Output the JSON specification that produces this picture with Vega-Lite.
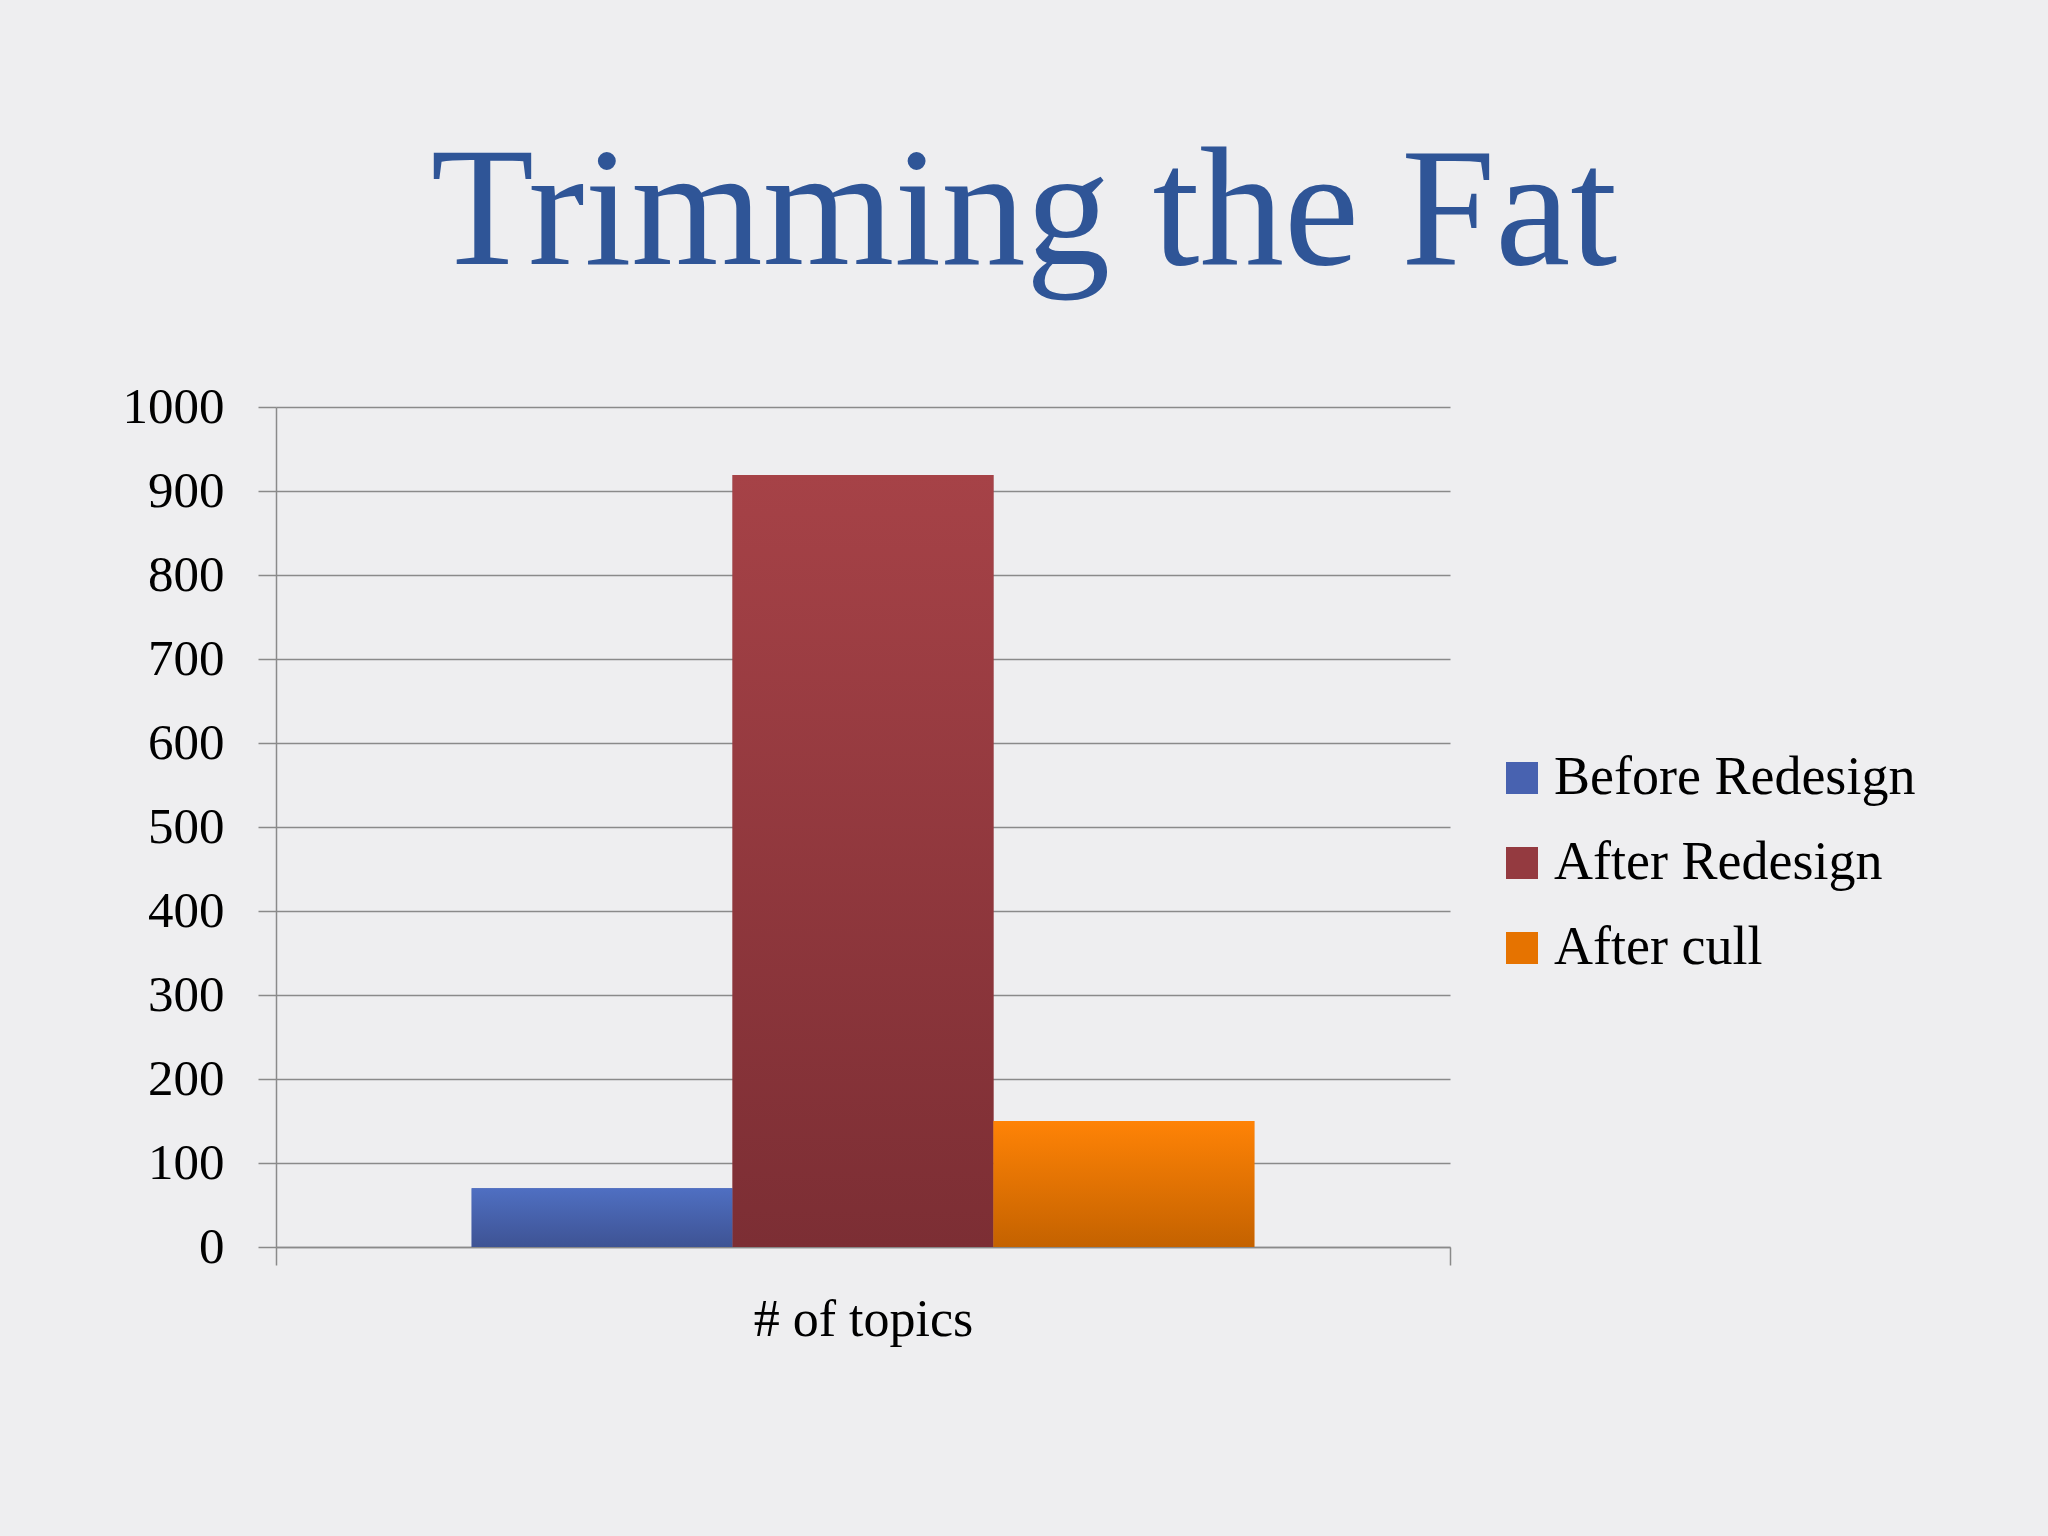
{
  "$schema": "https://vega.github.io/schema/vega-lite/v6.json",
  "autosize": "none",
  "width": 1174,
  "height": 840,
  "padding": {"left": 276, "top": 407, "right": 598, "bottom": 289},
  "background": "#EEEEF0",
  "title": {
    "text": "Trimming the Fat",
    "font": "Liberation Serif",
    "fontSize": 169,
    "fontWeight": "normal",
    "color": "#2F5597",
    "anchor": "middle",
    "dx": 161,
    "baseline": "alphabetic",
    "offset": -52
  },
  "data": {
    "values": [
      {"metric": "# of topics", "series": "Before Redesign", "value": 70},
      {"metric": "# of topics", "series": "After Redesign", "value": 919},
      {"metric": "# of topics", "series": "After cull", "value": 150}
    ]
  },
  "encoding": {
    "x": {
      "field": "metric",
      "type": "nominal",
      "scale": {"paddingInner": 0, "paddingOuter": 0},
      "axis": {
        "title": null,
        "labelAngle": 0,
        "labelFont": "Liberation Serif",
        "labelFontSize": 52,
        "labelColor": "#000000",
        "labelPadding": 29,
        "labelBaseline": "top",
        "labelLimit": 0,
        "tickBand": "extent",
        "tickSize": 18,
        "tickColor": "#8A8A8A",
        "tickWidth": 1.5,
        "domainColor": "#8A8A8A",
        "domainWidth": 1.5,
        "grid": false
      }
    },
    "xOffset": {
      "field": "series",
      "type": "nominal",
      "sort": ["Before Redesign", "After Redesign", "After cull"],
      "scale": {"paddingInner": 0, "paddingOuter": 0.75}
    },
    "y": {
      "field": "value",
      "type": "quantitative",
      "scale": {"domain": [0, 1000], "nice": false},
      "axis": {
        "title": null,
        "format": "d",
        "values": [0, 100, 200, 300, 400, 500, 600, 700, 800, 900, 1000],
        "labelFont": "Liberation Serif",
        "labelFontSize": 51,
        "labelColor": "#000000",
        "labelPadding": 34,
        "tickSize": 18,
        "tickColor": "#8A8A8A",
        "tickWidth": 1.5,
        "domainColor": "#8A8A8A",
        "domainWidth": 1.5,
        "grid": true,
        "gridColor": "#8A8A8A",
        "gridWidth": 1.5
      }
    }
  },
  "layer": [
    {
      "mark": {"type": "bar"},
      "encoding": {
        "color": {
          "field": "series",
          "type": "nominal",
          "sort": ["Before Redesign", "After Redesign", "After cull"],
          "scale": {
            "domain": ["Before Redesign", "After Redesign", "After cull"],
            "range": ["#4862B0", "#943A40", "#E67300"]
          },
          "legend": {
            "title": null,
            "orient": "none",
            "legendX": 1219,
            "legendY": 344,
            "padding": 0,
            "symbolType": "square",
            "symbolSize": 1024,
            "symbolStrokeWidth": 0,
            "labelFont": "Liberation Serif",
            "labelFontSize": 54,
            "labelColor": "#000000",
            "labelOffset": 5,
            "rowPadding": 31,
            "labelLimit": 0
          }
        }
      }
    },
    {
      "transform": [{"filter": "datum.series === 'Before Redesign'"}],
      "mark": {
        "type": "bar",
        "color": {"gradient": "linear", "x1": 0, "y1": 0, "x2": 0, "y2": 1, "stops": [{"offset": 0, "color": "#4F6FC2"}, {"offset": 1, "color": "#3E5394"}]}
      }
    },
    {
      "transform": [{"filter": "datum.series === 'After Redesign'"}],
      "mark": {
        "type": "bar",
        "color": {"gradient": "linear", "x1": 0, "y1": 0, "x2": 0, "y2": 1, "stops": [{"offset": 0, "color": "#A64247"}, {"offset": 1, "color": "#7C2E34"}]}
      }
    },
    {
      "transform": [{"filter": "datum.series === 'After cull'"}],
      "mark": {
        "type": "bar",
        "color": {"gradient": "linear", "x1": 0, "y1": 0, "x2": 0, "y2": 1, "stops": [{"offset": 0, "color": "#FF8306"}, {"offset": 1, "color": "#C46200"}]}
      }
    }
  ],
  "config": {
    "view": {"stroke": null}
  }
}
